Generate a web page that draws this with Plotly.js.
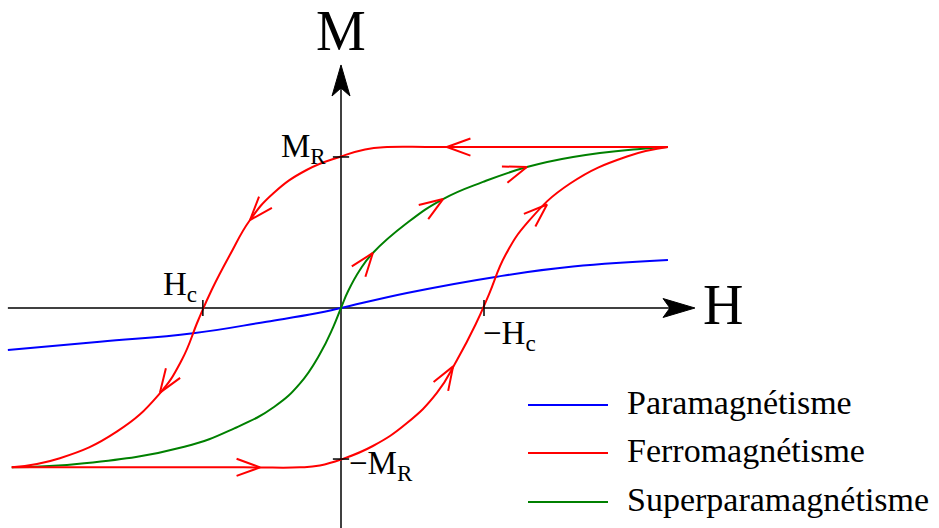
<!DOCTYPE html>
<html><head><meta charset="utf-8">
<script src="https://cdn.plot.ly/plotly-3.0.1.min.js"></script>
<style>html,body{margin:0;padding:0;background:#fff}</style>
</head><body><div id="chart" style="width:939px;height:528px"></div>
<script>
// ---- data (normalised field H and magnetisation M) ----
const seriesNames = ['Paramagnétisme', 'Ferromagnétisme', 'Superparamagnétisme'];

const paraH = [-1.025, -0.742, -0.455, -0.229, -0.075, 0, 0.203, 0.48, 0.714, 1.006];
const paraM = [-0.2625, -0.211, -0.158, -0.0856, -0.0331, 0, 0.094, 0.196, 0.259, 0.3];

// descending branch (from +saturation to -saturation), in travel order
const ferroDownH = [1.006, 0.3, 0.142, 0.074, 0, -0.106, -0.208, -0.28, -0.342, -0.398, -0.439, -0.49, -0.562, -0.69, -0.865, -1.013];
const ferroDownM = [1.006, 1.006, 1.006, 0.991, 0.947, 0.8625, 0.717, 0.55, 0.331, 0.1125, -0.075, -0.325, -0.544, -0.773, -0.939, -0.996];

// ascending branch (from -saturation to +saturation), in travel order
const ferroUpH = [-1.013, -0.3, -0.126, -0.065, 0, 0.098, 0.203, 0.295, 0.357, 0.414, 0.455, 0.506, 0.578, 0.705, 0.88, 1.006];
const ferroUpM = [-0.996, -0.996, -0.996, -0.984, -0.947, -0.8625, -0.719, -0.531, -0.325, -0.103, 0.084, 0.331, 0.544, 0.778, 0.947, 1.006];

const superH = [-1.013, -0.79, -0.482, -0.328, -0.205, -0.126, -0.065, -0.024, 0, 0.022, 0.058, 0.098, 0.203, 0.314, 0.437, 0.572, 0.714, 0.92, 1.006];
const superM = [-0.996, -0.971, -0.867, -0.752, -0.617, -0.471, -0.2875, -0.119, 0, 0.106, 0.2375, 0.344, 0.531, 0.681, 0.788, 0.881, 0.944, 0.994, 1.006];

// where the direction arrows sit (field values)
const ferroDownArrowH = [0.326, -0.28, -0.557];
const ferroUpArrowH = [-0.249, 0.345, 0.634];
const superArrowH = [0.098, 0.314, 0.572];

// characteristic values and their labels
const remanence = [0.944, -0.944];
const remanenceLabels = ['M<sub>R</sub>', '−M<sub>R</sub>'];
const coercivity = [-0.425, 0.44];
const coercivityLabels = ['H<sub>c</sub>', '−H<sub>c</sub>'];
const axisLabels = ['H', 'M'];

// ---- geometry ----
const W = 939, HT = 528;
const X0 = -1.04923, X1 = 1.84, Y0 = -1.375, Y1 = 1.925;
const toPx = (h, m) => [(h - X0) / (X1 - X0) * W, (Y1 - m) / (Y1 - Y0) * HT];
const toData = (x, y) => [X0 + x / W * (X1 - X0), Y1 - y / HT * (Y1 - Y0)];

const BLUE = '#0000ff', RED = '#ff0000', GREEN = '#008000';
const FONT = 'Liberation Serif, Times New Roman, serif';

function chevrons(Hs, Ms, at) {
  const xs = [], ys = [];
  const L = 25, a = 20 * Math.PI / 180;
  at.forEach(h => {
    for (let i = 0; i < Hs.length - 1; i++) {
      const lo = Math.min(Hs[i], Hs[i + 1]), hi = Math.max(Hs[i], Hs[i + 1]);
      if (h >= lo && h <= hi && hi > lo) {
        const t = (h - Hs[i]) / (Hs[i + 1] - Hs[i]);
        const m = Ms[i] + t * (Ms[i + 1] - Ms[i]);
        const T = toPx(h, m);
        const A = toPx(Hs[i], Ms[i]), B = toPx(Hs[i + 1], Ms[i + 1]);
        let dx = B[0] - A[0], dy = B[1] - A[1];
        const n = Math.hypot(dx, dy); dx /= n; dy /= n;
        [a, -a].forEach((ang, k) => {
          const rx = dx * Math.cos(ang) - dy * Math.sin(ang);
          const ry = dx * Math.sin(ang) + dy * Math.cos(ang);
          const p = toData(T[0] - L * rx, T[1] - L * ry);
          if (k === 0) { xs.push(p[0]); ys.push(p[1]); xs.push(h); ys.push(m); }
          else { xs.push(p[0]); ys.push(p[1]); xs.push(null); ys.push(null); }
        });
        break;
      }
    }
  });
  return {xs, ys};
}

const arrowsDown = chevrons(ferroDownH, ferroDownM, ferroDownArrowH);
const arrowsUp = chevrons(ferroUpH, ferroUpM, ferroUpArrowH);
const arrowsSuper = chevrons(superH, superM, superArrowH);
const arrowX = [].concat(arrowsDown.xs, arrowsUp.xs, arrowsSuper.xs);
const arrowY = [].concat(arrowsDown.ys, arrowsUp.ys, arrowsSuper.ys);

const lineStyle = c => ({color: c, width: 2, shape: 'spline', smoothing: 1.3});
const traces = [
  {x: paraH, y: paraM, mode: 'lines', line: lineStyle(BLUE), name: seriesNames[0], showlegend: false},
  {x: superH, y: superM, mode: 'lines', line: lineStyle(GREEN), name: seriesNames[2], showlegend: false},
  {x: ferroDownH, y: ferroDownM, mode: 'lines', line: lineStyle(RED), name: seriesNames[1], showlegend: false},
  {x: ferroUpH, y: ferroUpM, mode: 'lines', line: lineStyle(RED), name: seriesNames[1], showlegend: false},
  {x: arrowX, y: arrowY, mode: 'lines', line: {color: RED, width: 2}, showlegend: false, hoverinfo: 'skip'}
];

const shapes = [];
// axes
shapes.push({type: 'line', xref: 'x', yref: 'y', x0: -1.025, x1: 1.06, y0: 0, y1: 0, line: {color: 'black', width: 1.5}, layer: 'below'});
shapes.push({type: 'line', xref: 'x', yref: 'y', x0: 0, x1: 0, y0: -1.375, y1: 1.45, line: {color: 'black', width: 1.5}, layer: 'below'});
// arrow heads
shapes.push({type: 'path', xref: 'x', yref: 'y', path: 'M1.089,0 L0.991,0.059 L1.012,0 L0.991,-0.059 Z', fillcolor: 'black', line: {color: 'black', width: 1}});
shapes.push({type: 'path', xref: 'x', yref: 'y', path: 'M0,1.519 L0.0277,1.325 L0,1.375 L-0.0277,1.325 Z', fillcolor: 'black', line: {color: 'black', width: 1}});
// ticks
remanence.forEach(m => shapes.push({type: 'line', xref: 'x', yref: 'y', x0: -0.025, x1: 0.025, y0: m, y1: m, line: {color: 'black', width: 1.5}}));
coercivity.forEach(h => shapes.push({type: 'line', xref: 'x', yref: 'y', x0: h, x1: h, y0: -0.05, y1: 0.05, line: {color: 'black', width: 1.5}}));

const annotations = [];
const lab = (text, x, y, xa, size) => ({text, x, y, xref: 'x', yref: 'y', xanchor: xa, yanchor: 'middle', showarrow: false, font: {family: FONT, size, color: 'black'}});
annotations.push(lab(axisLabels[0], 1.108, 0.016, 'left', 56));
annotations.push(lab(axisLabels[1], 0, 1.731, 'center', 56));
annotations.push(lab(remanenceLabels[0], -0.04, 0.997, 'right', 33));
annotations.push(lab(remanenceLabels[1], 0.018, -0.984, 'left', 33));
annotations.push(lab(coercivityLabels[0], -0.437, 0.1375, 'right', 33));
annotations.push(lab(coercivityLabels[1], 0.431, -0.172, 'left', 33));

// legend (drawn by hand to get long line samples)
const legendColors = [BLUE, RED, GREEN];
const legendRows = [405, 453, 502];
seriesNames.forEach((name, i) => {
  const yp = 1 - legendRows[i] / HT;
  const yt = 1 - (legendRows[i] - 3) / HT;
  shapes.push({type: 'line', xref: 'paper', yref: 'paper', x0: 528 / W, x1: 608 / W, y0: yp, y1: yp, line: {color: legendColors[i], width: 2}});
  annotations.push({text: name, xref: 'paper', yref: 'paper', x: 625 / W, y: yt, xanchor: 'left', yanchor: 'middle', showarrow: false, font: {family: FONT, size: 34, color: 'black'}});
});

const layout = {
  width: W, height: HT, autosize: false,
  margin: {l: 0, r: 0, t: 0, b: 0, pad: 0},
  paper_bgcolor: 'white', plot_bgcolor: 'white',
  xaxis: {range: [X0, X1], visible: false, fixedrange: true},
  yaxis: {range: [Y0, Y1], visible: false, fixedrange: true},
  showlegend: false,
  shapes, annotations
};
Plotly.newPlot('chart', traces, layout, {staticPlot: true, displayModeBar: false});
</script>
</body></html>
